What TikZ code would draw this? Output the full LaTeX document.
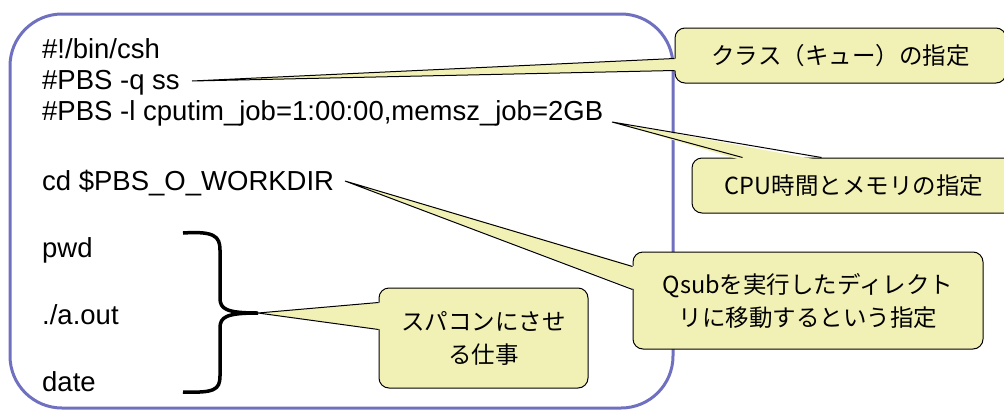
\documentclass[tikz,border=0pt]{standalone}
\usepackage{fontspec}
\setmainfont{Liberation Sans}
\newfontfamily\jpfont{Noto Sans CJK JP}
\usetikzlibrary{calc}
\definecolor{framecol}{RGB}{112,112,192}
\definecolor{notefill}{RGB}{242,241,181}
\tikzset{
  frame/.style={draw=framecol, line width=3pt, rounded corners=52pt},
  codeline/.style={anchor=base west, inner sep=0pt, font=\fontsize{27.5}{33}\selectfont},
  note/.style={draw=black, line width=1pt, fill=notefill, rounded corners=10pt,
    align=center, inner sep=0pt, font=\jpfont\fontsize{23.5}{33}\selectfont},
  wedgefill/.style={fill=notefill},
  wedgeedge/.style={draw=black, line width=1pt, line join=miter},
  bracestyle/.style={draw=black, line width=3.5pt}
}
\begin{document}
\begin{tikzpicture}[x=1pt, y=-1pt]
\useasboundingbox (0,0) rectangle (1004,410);

% script frame
\draw[frame] (10,14) rectangle (673,408);

% job script lines
\node[codeline] (l1) at (42,58)  {\#!/bin/csh};
\node[codeline] (l2) at (42,89)  {\#PBS -q ss};
\node[codeline] (l3) at (42,120) {\#PBS -l cputim\_job=1:00:00,memsz\_job=2GB};
\node[codeline] (l4) at (42,190) {cd \$PBS\_O\_WORKDIR};
\node[codeline] (l5) at (42,257) {pwd};
\node[codeline] (l6) at (42,324) {./a.out};
\node[codeline] (l7) at (42,391) {date};

% pointer tips
\coordinate (t1) at (192,81);
\coordinate (t2) at (612,122);
\coordinate (t3) at (345,181);
\coordinate (t4) at (258,313);

% note boxes
\node[note, minimum width=331pt, minimum height=55pt] (c1) at (840.5,55.5) {クラス（キュー）の指定};
\node[note, minimum width=324pt, minimum height=55pt] (c2) at (854,185.5) {CPU時間とメモリの指定};
\node[note, minimum width=350pt, minimum height=97pt] (c3) at (808,300.5) {Qsubを実行したディレクト\\リに移動するという指定};
\node[note, minimum width=209pt, minimum height=100pt] (c4) at (483.5,338) {スパコンにさせ\\る仕事};

% pointer wedges
\fill[wedgefill] (t1) -- ($(c1.north west)+(3,31)$) -- ($(c1.north west)+(3,43)$) -- cycle;
\draw[wedgeedge] ($(c1.north west)+(0,31)$) -- (t1) -- ($(c1.north west)+(0,43)$);

\fill[wedgefill] (t2) -- ($(c2.north west)+(51,3)$) -- ($(c2.north west)+(130,3)$) -- cycle;
\draw[wedgeedge] ($(c2.north west)+(51,0)$) -- (t2) -- ($(c2.north west)+(130,0)$);

\fill[wedgefill] (t3) -- ($(c3.north west)+(3,15)$) -- ($(c3.north west)+(3,38)$) -- cycle;
\draw[wedgeedge] ($(c3.north west)+(0,15)$) -- (t3) -- ($(c3.north west)+(0,38)$);

\fill[wedgefill] (t4) -- ($(c4.north west)+(3,15)$) -- ($(c4.north west)+(3,42)$) -- cycle;
\draw[wedgeedge] ($(c4.north west)+(0,15)$) -- (t4) -- ($(c4.north west)+(0,42)$);

% brace grouping the job commands
\draw[bracestyle] (183,233) .. controls (214,231) and (220,236) .. (220,250)
  -- (220,298) .. controls (220,309) and (226,313) .. (t4)
  .. controls (226,313) and (220,317) .. (220,328)
  -- (220,376) .. controls (220,390) and (214,393) .. (183,392);
\end{tikzpicture}
\end{document}
